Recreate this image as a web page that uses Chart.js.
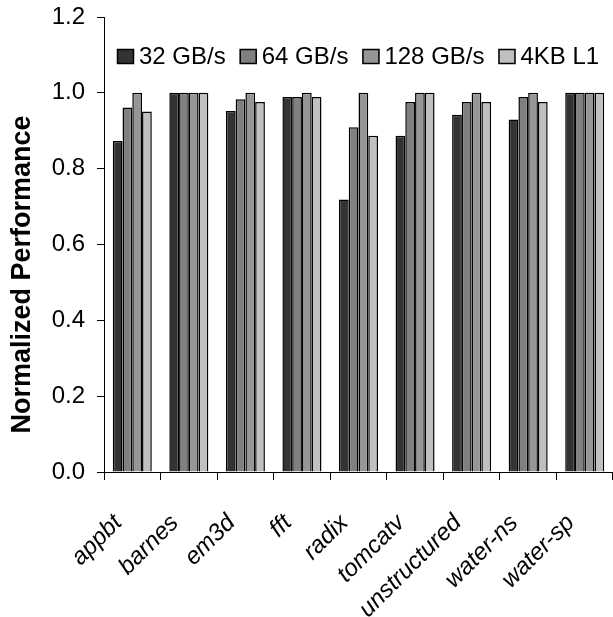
<!DOCTYPE html>
<html>
<head>
<meta charset="utf-8">
<script src="https://cdn.jsdelivr.net/npm/chart.js@4.4.0/dist/chart.umd.min.js"></script>
<style>
  html, body { margin: 0; padding: 0; background: #fff; }
</style>
</head>
<body>
<canvas id="myChart" width="613" height="617"></canvas>
<script>
// Datos de la grafica
var benchmarks = ['appbt', 'barnes', 'em3d', 'fft', 'radix', 'tomcatv', 'unstructured', 'water-ns', 'water-sp'];
var seriesNames = ['32 GB/s', '64 GB/s', '128 GB/s', '4KB L1'];
var bw32 = [0.873, 1.0, 0.952, 0.989, 0.719, 0.887, 0.942, 0.930, 1.0];
var bw64 = [0.961, 1.0, 0.983, 0.989, 0.909, 0.976, 0.976, 0.989, 1.0];
var bw128 = [1.0, 1.0, 1.0, 1.0, 1.0, 1.0, 1.0, 1.0, 1.0];
var l1small = [0.951, 1.0, 0.976, 0.989, 0.887, 1.0, 0.976, 0.976, 1.0];
var yTickLabels = ['0.0', '0.2', '0.4', '0.6', '0.8', '1.0', '1.2'];

// Colores de las series
var seriesColors = ['#333333', '#808080', '#969696', '#c0c0c0'];
var fontFamily = '"Liberation Sans", Arial, sans-serif';

Chart.defaults.font.family = fontFamily;
Chart.defaults.color = '#000';

// Leyenda dentro del area de la grafica
var insideLegend = {
  id: 'insideLegend',
  afterDraw: function (chart) {
    var ctx = chart.ctx;
    var area = chart.chartArea;
    var boxW = 17, boxH = 15, gapText = 5, gapItem = 14;
    ctx.save();
    ctx.font = '24px ' + fontFamily;
    ctx.textBaseline = 'middle';
    ctx.textAlign = 'left';
    var items = chart.data.datasets.map(function (ds) {
      return { text: ds.label, color: ds.backgroundColor, w: ctx.measureText(ds.label).width };
    });
    var total = 0;
    items.forEach(function (it) { total += boxW + gapText + it.w; });
    total += gapItem * (items.length - 1);
    var x = Math.round((area.left + area.right) / 2 - total / 2);
    var yMid = area.top + 39.5;
    items.forEach(function (it) {
      ctx.fillStyle = it.color;
      ctx.fillRect(x, yMid - boxH / 2, boxW, boxH);
      ctx.strokeStyle = '#000';
      ctx.lineWidth = 1.5;
      ctx.strokeRect(x + 0.5, yMid - boxH / 2 + 0.5, boxW - 1, boxH - 1);
      ctx.fillStyle = '#000';
      ctx.fillText(it.text, x + boxW + gapText, yMid + 1);
      x += boxW + gapText + it.w + gapItem;
    });
    ctx.restore();
  }
};

var series = [bw32, bw64, bw128, l1small];
var datasets = series.map(function (values, i) {
  return {
    label: seriesNames[i],
    data: values,
    backgroundColor: seriesColors[i],
    borderColor: '#000',
    borderWidth: 1.5,
    categoryPercentage: 0.69,
    barPercentage: 1.0
  };
});

var ctx = document.getElementById('myChart').getContext('2d');
var myChart = new Chart(ctx, {
  type: 'bar',
  data: {
    labels: benchmarks,
    datasets: datasets
  },
  options: {
    responsive: false,
    animation: false,
    devicePixelRatio: 1,
    layout: { padding: { top: 17, right: 0, left: 0, bottom: 0 } },
    plugins: {
      legend: { display: false },
      tooltip: { enabled: false }
    },
    scales: {
      x: {
        grid: { drawOnChartArea: false, drawTicks: true, tickLength: 8, color: '#000', offset: true },
        border: { color: '#000', width: 1 },
        ticks: {
          color: '#000',
          font: { size: 24, style: 'italic' },
          maxRotation: 45,
          minRotation: 45,
          autoSkip: false,
          padding: 29,
          labelOffset: -14
        },
        afterFit: function (scale) {
          scale.height = 145;
          scale.paddingLeft = 0;
          scale.paddingRight = 0;
        }
      },
      y: {
        min: 0,
        max: 1.2,
        grid: { drawOnChartArea: false, drawTicks: true, tickLength: 7, color: '#000' },
        border: { color: '#000', width: 1 },
        ticks: {
          stepSize: 0.2,
          color: '#000',
          font: { size: 24 },
          padding: 12,
          callback: function (value, index) { return yTickLabels[index]; }
        },
        title: {
          display: true,
          // espacios al final para bajar el titulo como en el original
          text: 'Normalized Performance        ',
          color: '#000',
          font: { size: 27, weight: 'bold' },
          padding: { top: 6, bottom: 0 }
        },
        afterFit: function (scale) {
          scale.width = 104;
          scale.paddingTop = 0;
          scale.paddingBottom = 0;
        }
      }
    }
  },
  plugins: [insideLegend]
});
</script>
</body>
</html>
